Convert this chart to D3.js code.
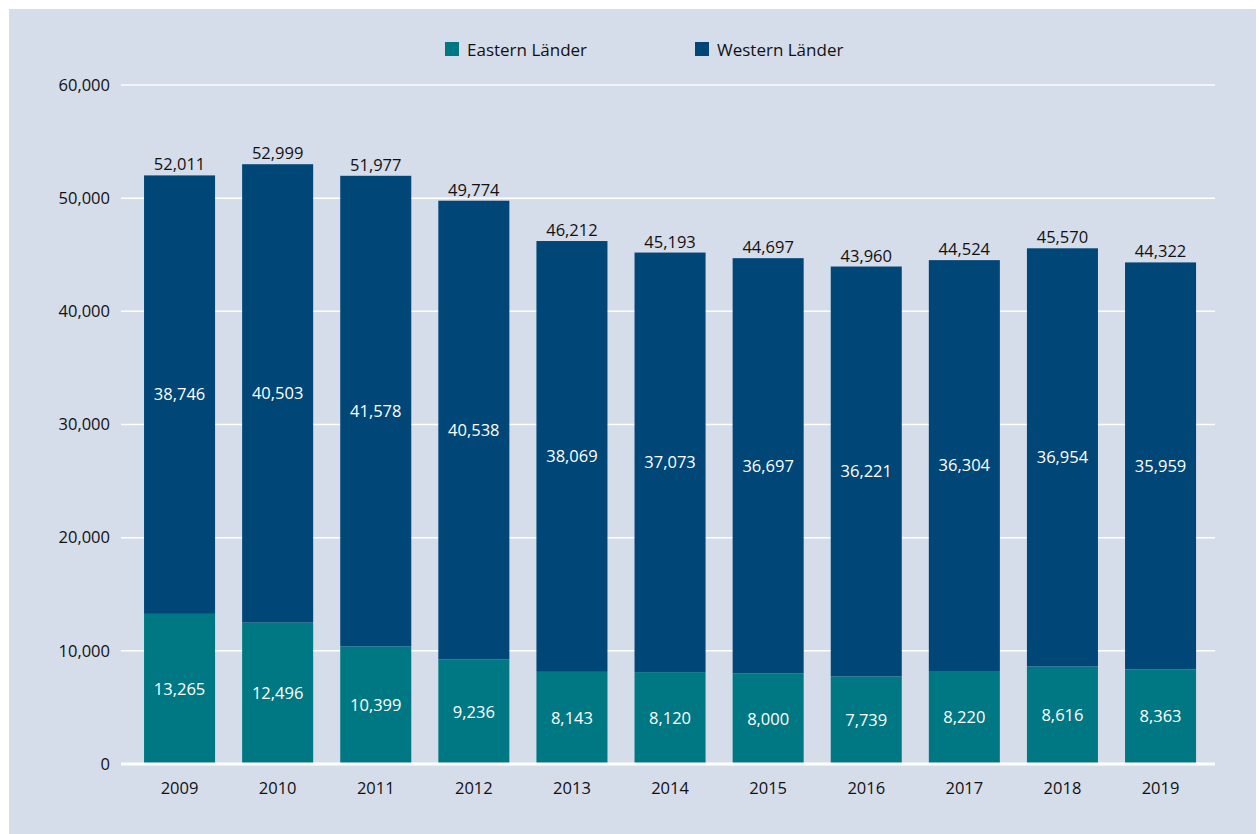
<!DOCTYPE html>
<html><head><meta charset="utf-8">
<script src="https://cdn.jsdelivr.net/npm/d3@7"></script>
<style>body{margin:0;background:#fff;}svg{display:block;font-family:"Open Sans","Noto Sans",sans-serif;}</style>
</head><body>
<svg id="c" width="1259" height="834"></svg>
<script>
const years = ["2009","2010","2011","2012","2013","2014","2015","2016","2017","2018","2019"];
const eastern = [13265,12496,10399,9236,8143,8120,8000,7739,8220,8616,8363];
const western = [38746,40503,41578,40538,38069,37073,36697,36221,36304,36954,35959];
const totals = [52011,52999,51977,49774,46212,45193,44697,43960,44524,45570,44322];
const yTicks = [0,10000,20000,30000,40000,50000,60000];
const seriesNames = ["Eastern Länder","Western Länder"];
const colors = ["#007884","#004677"];

const svg = d3.select("#c");
svg.append("rect").attr("x",9).attr("y",9).attr("width",1247).attr("height",825).attr("fill","#d5dcea");

const y = d3.scaleLinear().domain([0,60000]).range([764,85]);
const x = d3.scaleBand().domain(years).range([130.5,1209.6]).paddingInner(0.276).paddingOuter(0.138);
const fmt = d3.format(",");
const FS = 16.5;

svg.append("g").selectAll("line").data(yTicks.filter(d=>d>0)).join("line")
  .attr("x1",121).attr("x2",1215).attr("y1",d=>y(d)).attr("y2",d=>y(d))
  .attr("stroke","#fff").attr("stroke-width",1.5);

const yAxis = d3.axisLeft(y).tickValues(yTicks).tickFormat(fmt).tickSize(0).tickPadding(0);
const ya = svg.append("g").attr("transform","translate(110,0)").call(yAxis);
ya.select(".domain").remove();
ya.selectAll("text").attr("font-size",FS).attr("fill","#111").attr("font-family","'Open Sans','Noto Sans',sans-serif");

const stack = years.map((yr,i)=>({yr, e:eastern[i], w:western[i], t:totals[i]}));
const g = svg.append("g");
g.selectAll(".e").data(stack).join("rect")
  .attr("x",d=>x(d.yr)).attr("width",x.bandwidth())
  .attr("y",d=>y(d.e)).attr("height",d=>y(0)-y(d.e)).attr("fill",colors[0]);
g.selectAll(".w").data(stack).join("rect")
  .attr("x",d=>x(d.yr)).attr("width",x.bandwidth())
  .attr("y",d=>y(d.e+d.w)).attr("height",d=>y(d.e)-y(d.e+d.w)).attr("fill",colors[1]);

svg.append("line").attr("x1",121).attr("x2",1215).attr("y1",y(0)).attr("y2",y(0))
  .attr("stroke","#fff").attr("stroke-width",3);

const lab = svg.append("g").attr("font-size",FS).attr("text-anchor","middle");
lab.selectAll(".le").data(stack).join("text")
  .attr("x",d=>x(d.yr)+x.bandwidth()/2).attr("y",d=>(y(0)+y(d.e))/2).attr("dy","0.35em")
  .attr("fill","#fff").text(d=>fmt(d.e));
lab.selectAll(".lw").data(stack).join("text")
  .attr("x",d=>x(d.yr)+x.bandwidth()/2).attr("y",d=>(y(d.e)+y(d.e+d.w))/2).attr("dy","0.35em")
  .attr("fill","#fff").text(d=>fmt(d.w));
lab.selectAll(".lt").data(stack).join("text")
  .attr("x",d=>x(d.yr)+x.bandwidth()/2).attr("y",d=>y(d.t)-5)
  .attr("fill","#111").text(d=>fmt(d.t));

const xAxis = d3.axisBottom(x).tickSize(0).tickPadding(0);
const xa = svg.append("g").attr("transform","translate(0,782)").call(xAxis);
xa.select(".domain").remove();
xa.selectAll("text").attr("font-size",FS).attr("fill","#111").attr("font-family","'Open Sans','Noto Sans',sans-serif");

const legX = [445,695];
const leg = svg.append("g");
seriesNames.forEach((n,i)=>{
  leg.append("rect").attr("x",legX[i]).attr("y",42).attr("width",14).attr("height",14).attr("fill",colors[i]);
  leg.append("text").attr("x",legX[i]+22).attr("y",56).attr("font-size",17).attr("fill","#111").text(n);
});
</script>
</body></html>
